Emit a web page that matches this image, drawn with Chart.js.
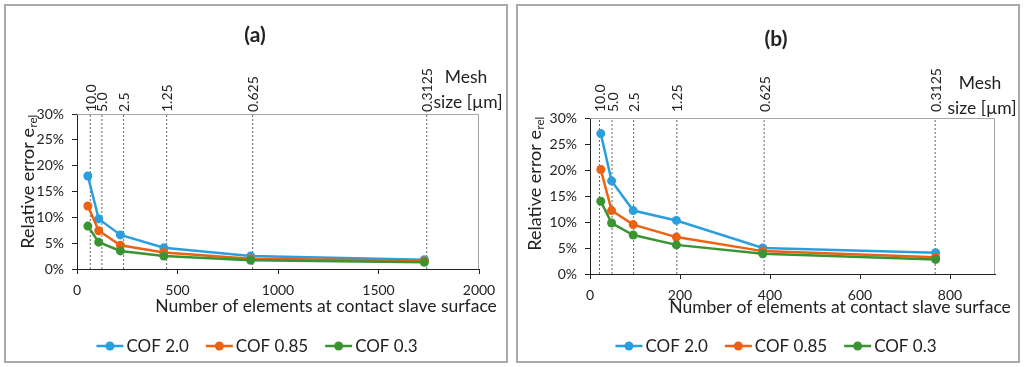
<!DOCTYPE html>
<html>
<head>
<meta charset="utf-8">
<script src="https://cdn.jsdelivr.net/npm/chart.js@4.4.1/dist/chart.umd.min.js"></script>
<style>
  body { margin: 0; width: 1024px; height: 367px; background: #fff; position: relative; overflow: hidden; }
  .panel { position: absolute; top: 4px; width: 504px; height: 359px; border: 2px solid #a9a9a9; box-sizing: border-box; }
  #pa { left: 4px; }
  #pb { left: 516px; }
  .panel canvas { position: absolute; left: 0; top: 0; }
</style>
</head>
<body>
<div class="panel" id="pa"><canvas id="chartA" width="500" height="355"></canvas></div>
<div class="panel" id="pb"><canvas id="chartB" width="500" height="355"></canvas></div>
<script>
// mesh sizes [um] shown on top of each chart
const meshSizes = ['10.0', '5.0', '2.5', '1.25', '0.625', '0.3125'];
const seriesNames = ['COF 2.0', 'COF 0.85', 'COF 0.3'];
const seriesColors = ['#2a9fdf', '#ec6112', '#3b9434'];
const yTicks = [0, 5, 10, 15, 20, 25, 30];

// panel (a)
const elementsA = [54, 108, 216, 432, 864, 1728];
const cof20A = [18.0, 9.7, 6.6, 4.1, 2.5, 1.8];
const cof085A = [12.2, 7.4, 4.6, 3.2, 2.0, 1.6];
const cof03A = [8.3, 5.2, 3.5, 2.5, 1.7, 1.3];
const meshLinesA = [66, 124, 232, 446, 874, 1740];
const xTicksA = [0, 500, 1000, 1500, 2000];

// panel (b)
const elementsB = [24, 48, 96, 192, 384, 768];
const cof20B = [27.0, 17.9, 12.2, 10.3, 5.0, 4.1];
const cof085B = [20.1, 12.2, 9.5, 7.1, 4.4, 3.2];
const cof03B = [14.0, 9.8, 7.5, 5.6, 3.9, 2.8];
const meshLinesB = [21, 49, 97, 193, 387, 767];
const xTicksB = [0, 200, 400, 600, 800];

const FONT = 'Lato, "Open Sans", sans-serif';
const TXT = '#222';

function fontStr(size, bold) {
  return (bold ? 'bold ' : '') + size + 'px ' + FONT;
}

// draws the titles, mesh size labels, plot frame and legend
const decor = {
  id: 'decor',
  afterDraw(chart, args, o) {
    const ctx = chart.ctx;
    const area = chart.chartArea;
    const xs = chart.scales.x;
    ctx.save();

    // grey frame on top and right of the plot area
    ctx.strokeStyle = '#a6a6a6';
    ctx.lineWidth = 1;
    ctx.beginPath();
    ctx.moveTo(area.left, area.top + 0.5);
    ctx.lineTo(area.right - 0.5, area.top + 0.5);
    ctx.lineTo(area.right - 0.5, area.bottom);
    ctx.stroke();

    ctx.fillStyle = TXT;
    ctx.textBaseline = 'middle';

    // panel title
    ctx.textAlign = 'center';
    ctx.font = fontStr(21, true);
    ctx.fillText(o.title, o.titleX, o.titleY);

    // x axis title
    ctx.font = fontStr(17.5);
    ctx.fillText('Number of elements at contact slave surface', o.xTitleX, o.xTitleY);

    // mesh size caption
    ctx.font = fontStr(17.5);
    ctx.fillText('Mesh', o.meshX, o.meshY);
    ctx.fillText('size [\u00b5m]', o.meshX + 2, o.meshY + 25);

    // rotated mesh size labels
    ctx.font = fontStr(14);
    ctx.textAlign = 'left';
    o.meshAt.forEach((v, i) => {
      ctx.save();
      ctx.translate(xs.getPixelForValue(v) + 1, area.top - o.meshGap);
      ctx.rotate(-Math.PI / 2);
      ctx.fillText(meshSizes[i], 0, 0);
      ctx.restore();
    });

    // y axis title with subscript
    ctx.save();
    ctx.translate(o.yTitleX, o.yTitleY);
    ctx.rotate(-Math.PI / 2);
    ctx.font = fontStr(18);
    const main = 'Relative error e';
    const w1 = ctx.measureText(main).width;
    ctx.font = fontStr(11.5);
    const w2 = ctx.measureText('rel').width;
    const sx = -(w1 + w2) / 2;
    ctx.font = fontStr(18);
    ctx.fillText(main, sx, 0);
    ctx.font = fontStr(11.5);
    ctx.fillText('rel', sx + w1 + 0.5, 5);
    ctx.restore();

    // legend
    ctx.font = fontStr(17);
    const lineW = 27, gap = 3, spacing = 17;
    const widths = seriesNames.map(n => ctx.measureText(n).width);
    const total = widths.reduce((a, w) => a + lineW + gap + w, 0) + spacing * (seriesNames.length - 1);
    let x = o.legendX - total / 2;
    const y = o.legendY;
    seriesNames.forEach((n, i) => {
      ctx.strokeStyle = seriesColors[i];
      ctx.fillStyle = seriesColors[i];
      ctx.lineWidth = 2.5;
      ctx.beginPath();
      ctx.moveTo(x, y);
      ctx.lineTo(x + lineW, y);
      ctx.stroke();
      ctx.beginPath();
      ctx.arc(x + lineW / 2, y, 4.5, 0, Math.PI * 2);
      ctx.fill();
      ctx.fillStyle = TXT;
      ctx.fillText(n, x + lineW + gap, y + 1);
      x += lineW + gap + widths[i] + spacing;
    });

    ctx.restore();
  }
};

function makeChart(id, elements, series, meshLines, xTicks, xMax, lay) {
  const datasets = series.map((vals, i) => ({
    label: seriesNames[i],
    data: elements.map((e, k) => ({ x: e, y: vals[k] })),
    borderColor: seriesColors[i],
    backgroundColor: seriesColors[i],
    borderWidth: 2.5,
    pointRadius: 4.5,
    pointBorderWidth: 0,
    tension: 0,
    order: 3 - i
  }));
  meshLines.forEach(v => {
    datasets.push({
      data: [{ x: v, y: 0 }, { x: v, y: 30 }],
      borderColor: '#666',
      borderWidth: 1,
      borderDash: [2, 2],
      pointRadius: 0,
      order: 10
    });
  });

  return new Chart(document.getElementById(id), {
    type: 'line',
    data: { datasets },
    plugins: [decor],
    options: {
      responsive: false,
      animation: false,
      layout: { padding: { top: lay.top, right: lay.right, left: 0, bottom: 0 } },
      scales: {
        x: {
          type: 'linear',
          min: 0,
          max: xMax,
          afterFit: s => { s.height = lay.xH; },
          afterBuildTicks: s => { s.ticks = xTicks.map(v => ({ value: v })); },
          border: { color: '#222', width: 1 },
          grid: { drawOnChartArea: false, color: '#222', tickLength: 5 },
          ticks: { color: TXT, font: { family: FONT, size: 14 }, padding: lay.xPad, callback: v => String(v) }
        },
        y: {
          min: 0,
          max: 30,
          afterFit: s => { s.width = lay.yW; },
          afterBuildTicks: s => { s.ticks = yTicks.map(v => ({ value: v })); },
          border: { color: '#222', width: 1 },
          grid: { drawOnChartArea: false, color: '#222', tickLength: 5 },
          ticks: { color: TXT, font: { family: FONT, size: 14 }, padding: 8, callback: v => v + '%' }
        }
      },
      plugins: {
        legend: { display: false },
        tooltip: { enabled: false },
        decor: lay.decor
      }
    }
  });
}

function build() {
  makeChart('chartA', elementsA, [cof20A, cof085A, cof03A], meshLinesA, xTicksA, 2000, {
    top: 108, right: 27, xH: 92, yW: 71, xPad: 8,
    decor: {
      title: '(a)', titleX: 249, titleY: 29,
      xTitleX: 320, xTitleY: 300,
      yTitleX: 22, yTitleY: 176,
      meshX: 460, meshY: 71, meshAt: meshLinesA, meshGap: 2,
      legendX: 251, legendY: 340
    }
  });
  makeChart('chartB', elementsB, [cof20B, cof085B, cof03B], meshLinesB, xTicksB, 900, {
    top: 112, right: 23, xH: 87, yW: 72, xPad: 8,
    decor: {
      title: '(b)', titleX: 258, titleY: 33,
      xTitleX: 322, xTitleY: 301,
      yTitleX: 17, yTitleY: 178,
      meshX: 462, meshY: 77, meshAt: meshLinesB, meshGap: 6,
      legendX: 258, legendY: 340
    }
  });
}

if (document.fonts && document.fonts.load) {
  document.fonts.load('14px Lato').then(build, build);
} else {
  build();
}
</script>
</body>
</html>
